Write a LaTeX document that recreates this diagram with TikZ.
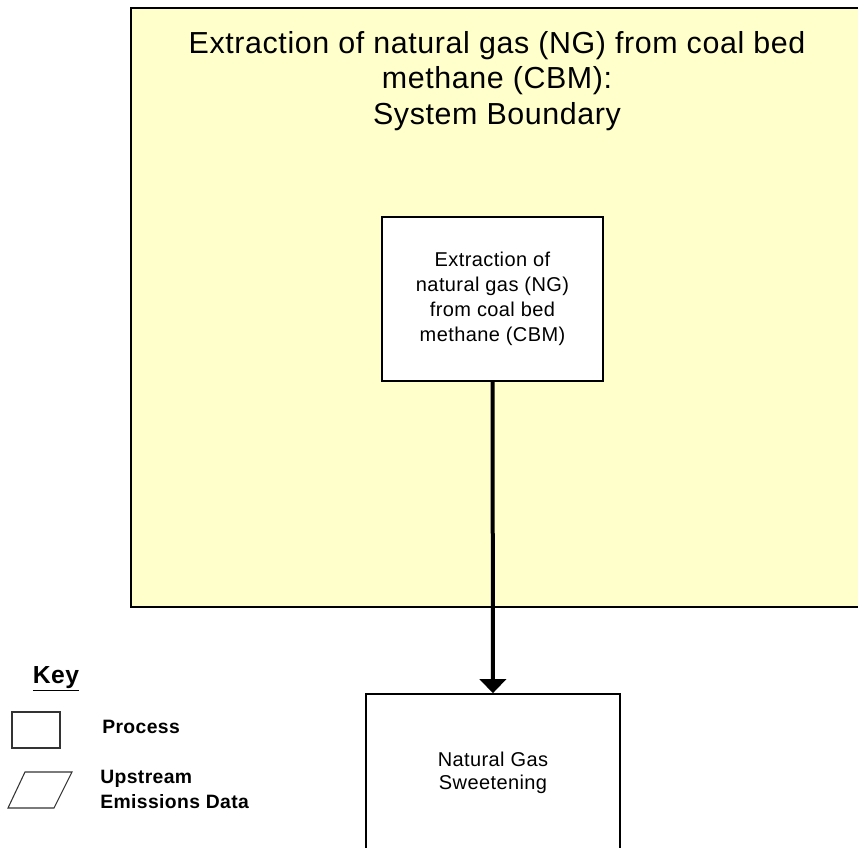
\documentclass[tikz,border=0pt]{standalone}
\usepackage{fontspec}
\setmainfont{Liberation Sans}[LetterSpace=2]
\usepackage{tikz}
\usepackage{xcolor}
\usetikzlibrary{arrows.meta,positioning}
\definecolor{bndyellow}{RGB}{255,255,204}

\begin{document}
\begin{tikzpicture}[x=0.75pt,y=-0.75pt,
  process/.style={rectangle,draw=black,line width=1.2pt,fill=white,inner sep=0pt,align=center,
    font=\fontsize{15}{18.75}\selectfont},
  keytext/.style={anchor=west,inner sep=0pt,align=left,font=\fontsize{14.5}{18.75}\selectfont\bfseries}]
\useasboundingbox (0,0) rectangle (858,848);
\clip (0,0) rectangle (858,848);
% system boundary
\draw[line width=1.5pt,fill=bndyellow] (131,8) rectangle (880,607);
\node (title) at (497,81) [inner sep=0pt,align=center,font=\fontsize{22.8}{26.5}\selectfont]
{Extraction of natural gas (NG) from coal bed\\ methane (CBM):\\ System Boundary};
% processes
\node (cbm) at (492.5,299) [process,minimum width=165.75pt,minimum height=123pt]
{Extraction of\\ natural gas (NG)\\ from coal bed\\ methane (CBM)};
\node (sweet) at (493,773) [process,minimum width=190.5pt,minimum height=118.5pt,
font=\fontsize{15}{17.25}\selectfont] {Natural Gas\\ Sweetening};
\draw[line width=3pt,-{Triangle[width=19.5pt,length=10.5pt]}] (cbm) -- (sweet);
% key
\node (key) at (56,679) [inner sep=0pt,font=\fontsize{18.5}{20}\selectfont\bfseries] {\underline{Key}};
\node (keyproc) at (36,730) [rectangle,draw=black!80,line width=0.8pt,inner sep=0pt,
minimum width=36pt,minimum height=27pt] {};
\node (proctext) at (102,727) [keytext] {Process};
\draw[black!80,line width=0.8pt] (8,808) -- (25,772) -- (72,772) -- (54,808) -- cycle;
\node (uptext) at (100,789) [keytext] {Upstream\\ Emissions Data};
\end{tikzpicture}
\end{document}
